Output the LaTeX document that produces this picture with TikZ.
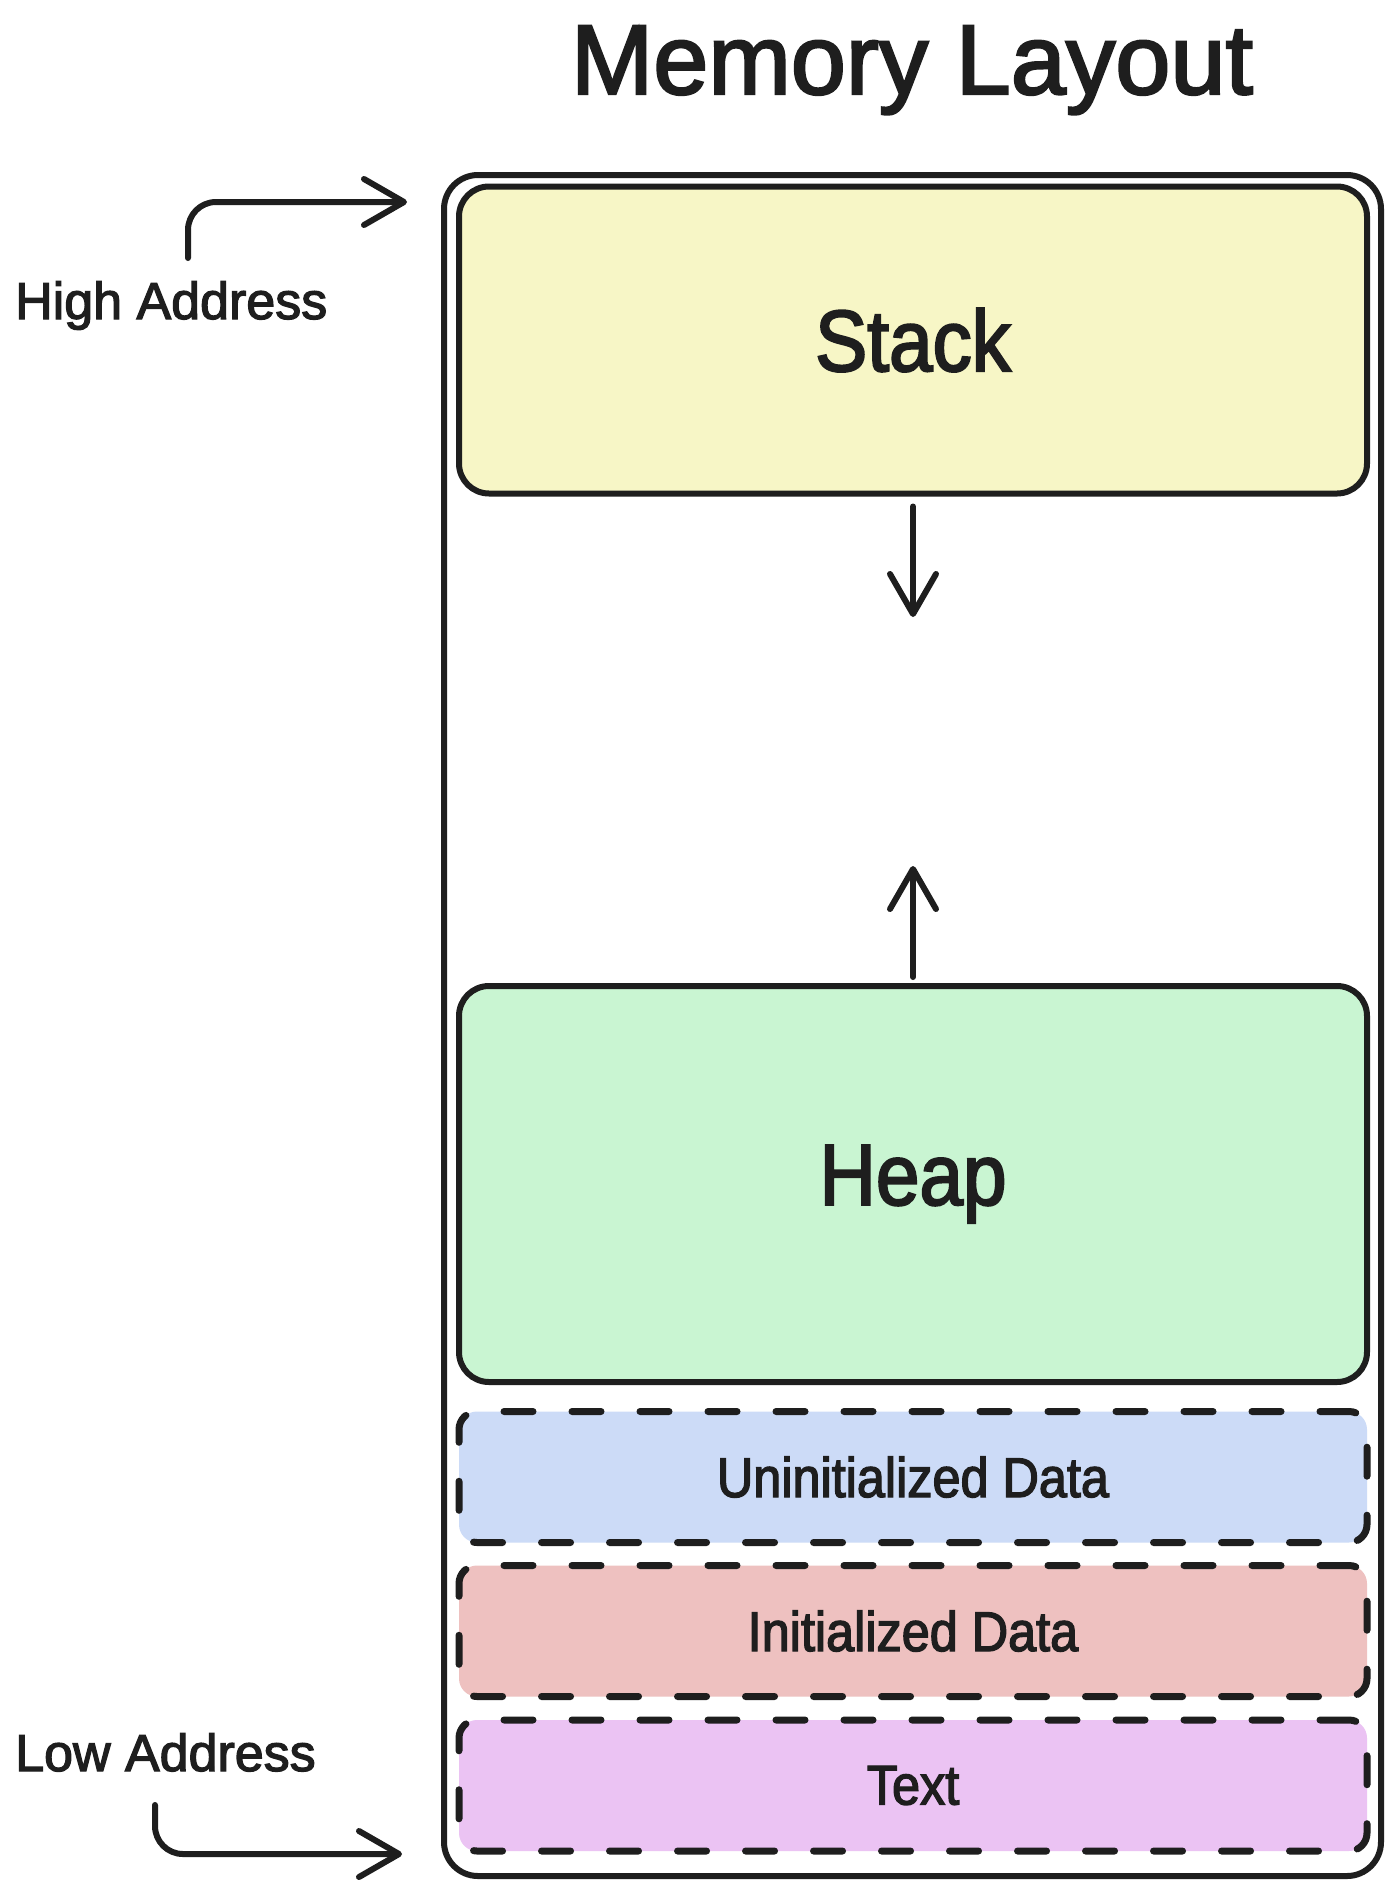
\documentclass[tikz,border=0pt]{standalone}
\usepackage{fontspec}
\setmainfont{Liberation Sans}[FakeBold=2.4]
\newfontfamily\narrowfont{Liberation Sans}[FakeBold=2.4,FakeStretch=0.9]
\usetikzlibrary{arrows.meta}
\definecolor{ink}{HTML}{1E1E1E}
\definecolor{stackfill}{HTML}{F7F6C6}
\definecolor{heapfill}{HTML}{C9F5D2}
\definecolor{bssfill}{HTML}{CCDBF7}
\definecolor{datafill}{HTML}{EEC1C0}
\definecolor{textfill}{HTML}{EBC3F3}
\begin{document}
\begin{tikzpicture}[x=1pt,y=-1pt,
  box/.style={draw=ink, line width=6pt, rounded corners=30pt, minimum width=908pt, inner sep=0pt, font=\narrowfont\fontsize{87}{95}\selectfont, text=ink},
  seg/.style={draw=ink, line width=7pt, dash pattern=on 29pt off 39pt, line cap=round, rounded corners=18pt, minimum width=908pt, minimum height=131pt, inner sep=0pt, font=\narrowfont\fontsize{56}{64}\selectfont, text=ink},
  lbl/.style={font=\fontsize{52}{60}\selectfont, inner sep=0pt, anchor=base west, text=ink},
  arr/.style={draw=ink, line width=6pt, line cap=round, line join=round, -{Straight Barb[length=40pt,width=46pt,round]}}
]
\useasboundingbox (0,0) rectangle (1398,1896);
\fill[white] (0,0) rectangle (1398,1896);
% title
\node[font=\fontsize{99}{110}\selectfont, anchor=base, inner sep=0pt, text=ink] (title) at (912,94) {Memory Layout};
% outer memory container
\node[draw=ink, line width=6pt, rounded corners=34pt, minimum width=937pt, minimum height=1701pt, inner sep=0pt] (mem) at (912.5,1025.5) {};
% segments
\node[box, fill=stackfill, minimum height=307pt] (stack) at (913,340) {Stack};
\node[box, fill=heapfill, minimum height=396pt] (heap) at (913,1184) {Heap};
\node[seg, fill=bssfill] (bss) at (913,1477) {Uninitialized Data};
\node[seg, fill=datafill] (data) at (913,1631) {Initialized Data};
\node[seg, fill=textfill] (txt) at (913,1785.5) {Text};
% growth arrows
\coordinate (dn) at (913,617);
\coordinate (up) at (913,866);
\draw[arr] ([yshift=-10pt]stack.south) -- (dn);
\draw[arr] ([yshift=6pt]heap.north) -- (up);
% address labels
\node[lbl] (hi) at (15,319) {High Address};
\node[lbl] (lo) at (15,1771) {Low Address};
\coordinate (hiS) at (188,258);
\coordinate (hiE) at (407,202);
\coordinate (loS) at (155,1805);
\coordinate (loE) at (402,1854);
\draw[arr, rounded corners=28pt] (hiS) |- (hiE);
\draw[arr, rounded corners=28pt] (loS) |- (loE);
\end{tikzpicture}
\end{document}
